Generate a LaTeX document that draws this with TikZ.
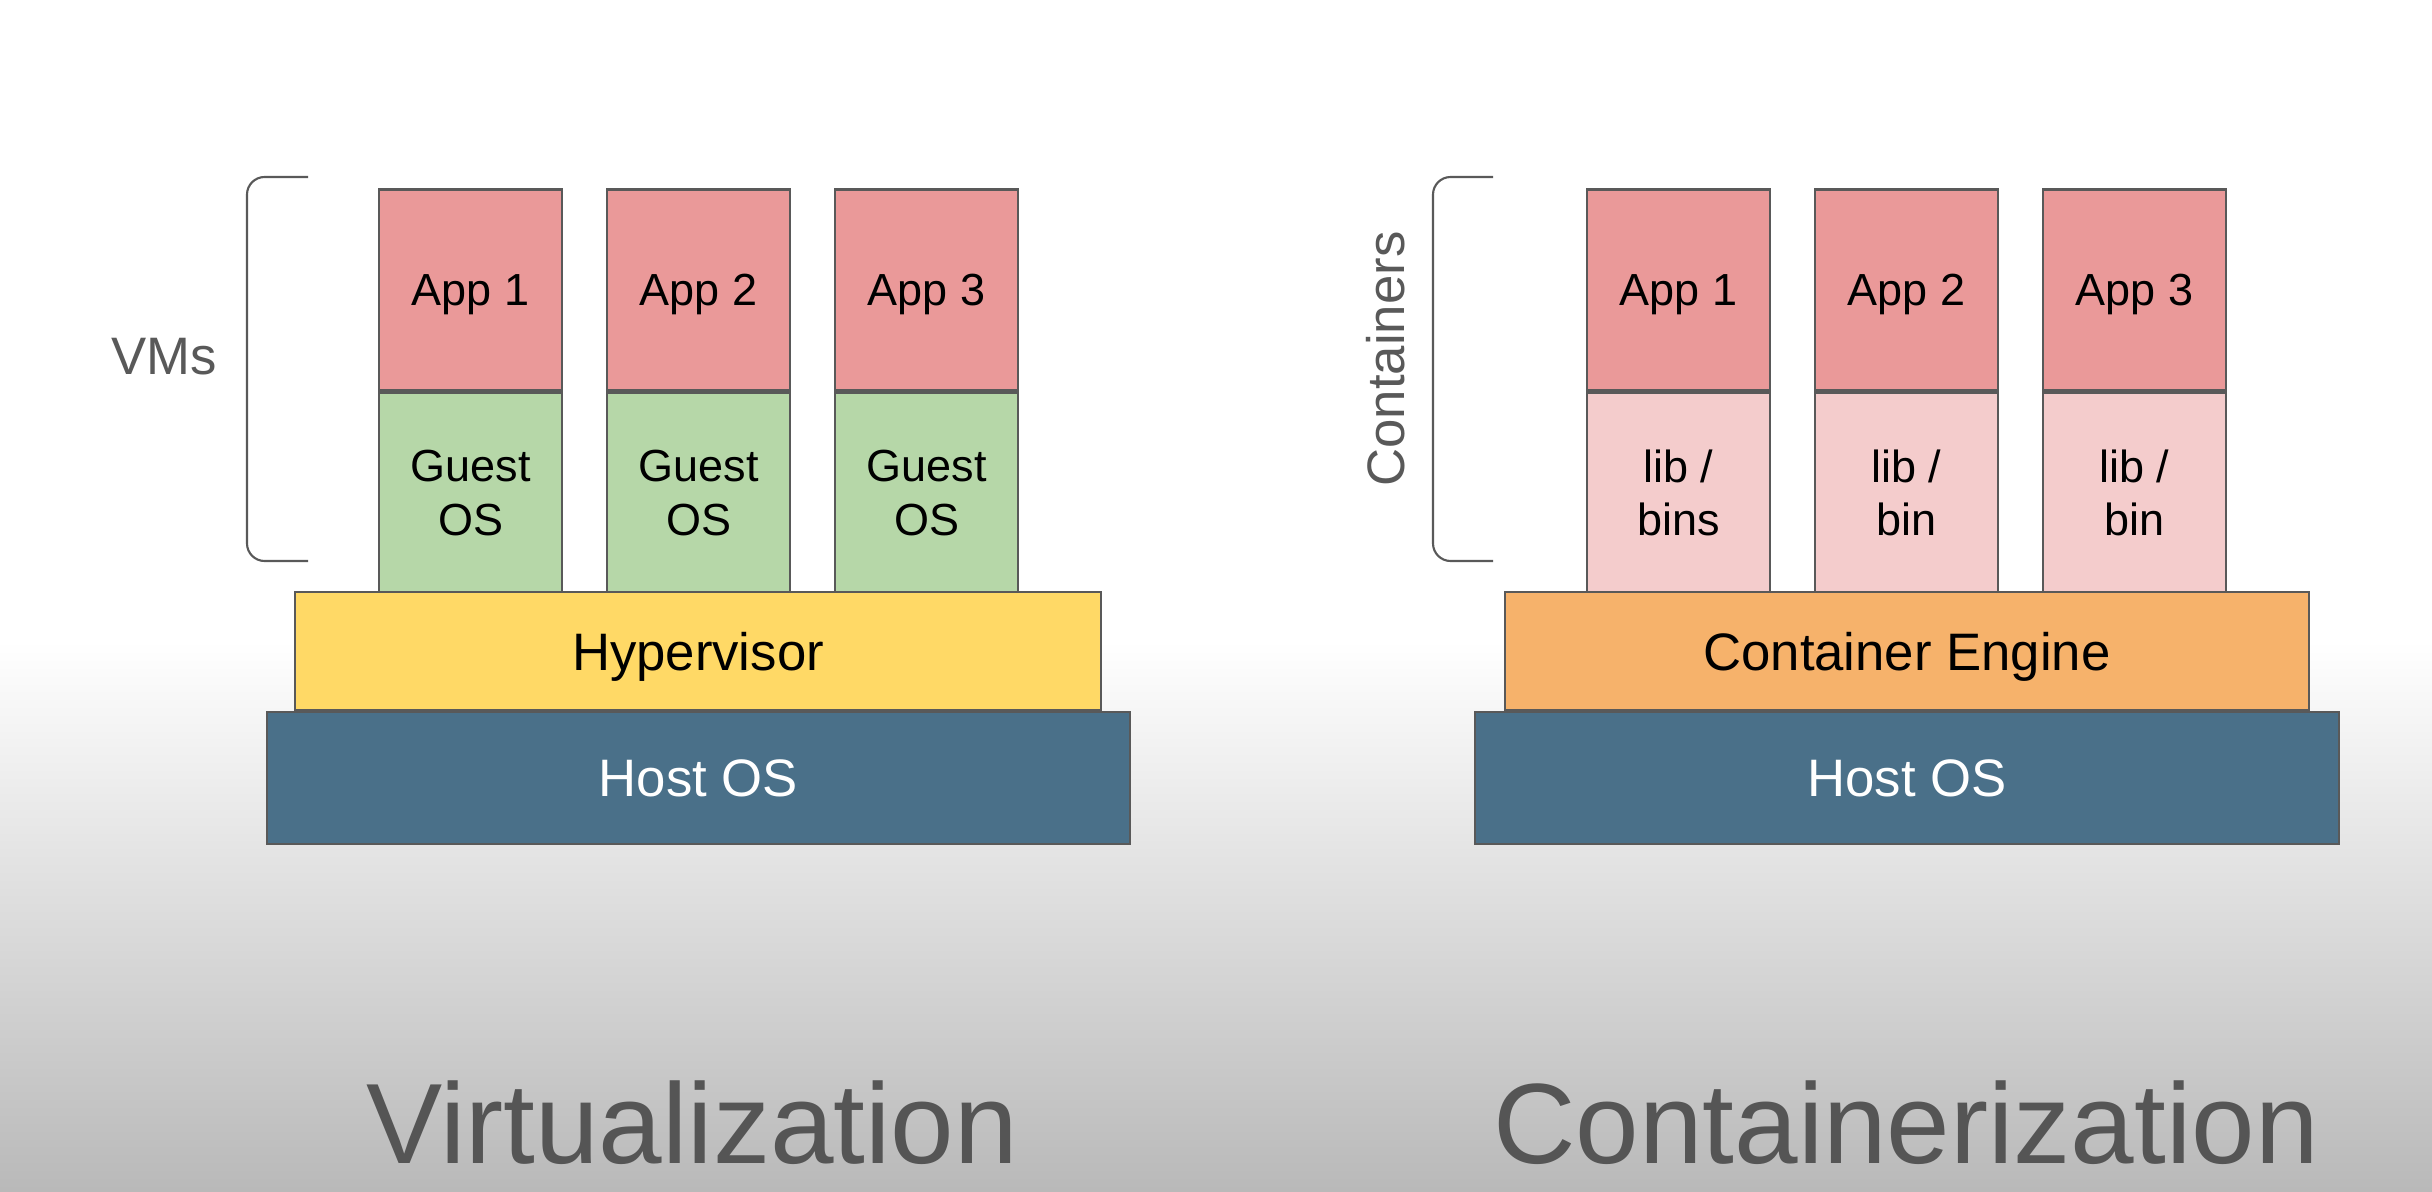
\documentclass[tikz,border=0pt]{standalone}
\usepackage{fontspec}
\setmainfont{Liberation Sans}
\usetikzlibrary{positioning}
\definecolor{AP}{RGB}{234, 153, 153}
\definecolor{GO}{RGB}{182, 215, 168}
\definecolor{LB}{RGB}{244, 204, 204}
\definecolor{HY}{RGB}{255, 217, 102}
\definecolor{CE}{RGB}{246, 178, 107}
\definecolor{HO}{RGB}{74, 112, 137}
\definecolor{GR}{RGB}{89, 89, 89}

\tikzset{
  caja/.style={draw=GR, line width=0.6pt, inner sep=0pt, align=center,
    minimum width=1.83cm, minimum height=2.01cm,
    font=\fontsize{12.8}{15.2}\selectfont},
  app/.style={caja, fill=AP, text depth=0pt},
  capa/.style={draw=GR, line width=0.6pt, inner sep=0pt, text depth=0pt,
    font=\fontsize{15}{18}\selectfont},
  etiqueta/.style={text=GR, font=\fontsize{15}{18}\selectfont},
  titulo/.style={text=GR!95!black, anchor=base, font=\fontsize{32.5}{38}\selectfont},
  llave/.style={draw=GR, line width=0.6pt, rounded corners=5pt}
}

\begin{document}
\begin{tikzpicture}
	% Fondo
	\useasboundingbox (0,0) rectangle (24.32,11.91);
	\fill[white] (0,0) rectangle (24.32,11.91);
	\shade[top color=white, bottom color=gray!55] (0,0) rectangle (24.32,5.5);

	% Virtualizacion
	\node[app] (app1v) at (4.705,9.01) {App 1};
	\node[app] (app2v) at (6.985,9.01) {App 2};
	\node[app] (app3v) at (9.265,9.01) {App 3};
	\node[caja, fill=GO, below=0pt of app1v] (gos1) {Guest\\OS};
	\node[caja, fill=GO, below=0pt of app2v] (gos2) {Guest\\OS};
	\node[caja, fill=GO, below=0pt of app3v] (gos3) {Guest\\OS};
	\node[capa, fill=HY, minimum width=8.06cm, minimum height=1.18cm] (hyp) at (6.98,5.40) {Hypervisor};
	\node[capa, fill=HO, text=white, minimum width=8.63cm, minimum height=1.32cm] (hostv) at (6.985,4.13) {Host OS};

	\draw[llave] (3.08,10.14) -- (2.47,10.14) -- (2.47,6.30) -- (3.08,6.30);
	\node[etiqueta] (vms) at (1.64,8.34) {VMs};
	\node[titulo] (virt) at (6.92,0.28) {Virtualization};

	% Contenedores
	\node[app] (app1c) at (16.785,9.01) {App 1};
	\node[app] (app2c) at (19.065,9.01) {App 2};
	\node[app] (app3c) at (21.345,9.01) {App 3};
	\node[caja, fill=LB, below=0pt of app1c] (lib1) {lib /\\bins};
	\node[caja, fill=LB, below=0pt of app2c] (lib2) {lib /\\bin};
	\node[caja, fill=LB, below=0pt of app3c] (lib3) {lib /\\bin};
	\node[capa, fill=CE, minimum width=8.04cm, minimum height=1.18cm] (eng) at (19.07,5.40) {Container Engine};
	\node[capa, fill=HO, text=white, minimum width=8.64cm, minimum height=1.32cm] (hostc) at (19.07,4.13) {Host OS};

	\draw[llave] (14.93,10.14) -- (14.33,10.14) -- (14.33,6.30) -- (14.93,6.30);
	\node[etiqueta, rotate=90] (cont) at (13.86,8.32) {Containers};
	\node[titulo] (contz) at (19.06,0.28) {Containerization};
\end{tikzpicture}
\end{document}
